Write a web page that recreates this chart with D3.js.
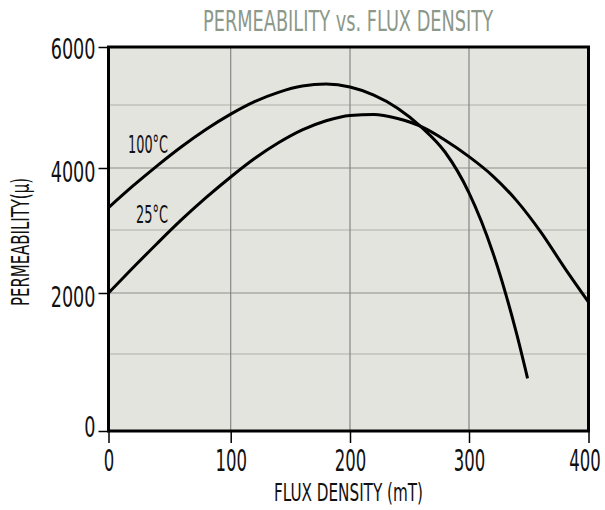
<!DOCTYPE html>
<html><head><meta charset="utf-8">
<script src="https://cdn.jsdelivr.net/npm/d3@7"></script>
<style>
html,body{margin:0;padding:0;background:#fff;}
svg{display:block;}
text{font-family:"Liberation Sans Narrow","DejaVu Sans Condensed","Liberation Sans",sans-serif;}
</style></head>
<body><svg id="chart" width="605" height="510"></svg>
<script>
// ---- data ----
const xTicks = [0, 100, 200, 300, 400];
const yTicks = [0, 2000, 4000, 6000];
const yGrid = [1000, 2000, 3000, 4000, 5000];
const flux100 = [0, 20, 40, 60, 80, 100, 120, 140, 160, 180, 200, 220, 240, 260, 280, 300, 320, 340, 349];
const perm100 = [3360, 3710, 4038, 4341, 4615, 4855, 5058, 5218, 5326, 5360, 5310, 5170, 4950, 4650, 4250, 3600, 2640, 1320, 684];
const flux25 = [0, 20, 40, 60, 80, 100, 120, 140, 160, 180, 200, 220, 240, 260, 280, 300, 320, 340, 360, 380, 400];
const perm25 = [2000, 2400, 2790, 3170, 3525, 3855, 4150, 4400, 4605, 4750, 4835, 4850, 4785, 4655, 4440, 4180, 3870, 3470, 2970, 2400, 1852];
const seriesLabels = ["100°C", "25°C"];
const title = "PERMEABILITY vs. FLUX DENSITY";
const xTitle = "FLUX DENSITY (mT)";
const yTitle = "PERMEABILITY(μ)";

const svg = d3.select("#chart");
const x = d3.scaleLinear().domain([0, 100, 200, 300, 400]).range([108.5, 230.7, 350, 469, 588.5]);
const y = d3.scaleLinear().domain([0, 1000, 2000, 3000, 4000, 5000, 6000]).range([431, 354, 293, 230, 168, 105, 47]);

const L = x(0), R = x(400), T = y(6000), B = y(0);

// background
svg.append("rect").attr("x", L).attr("y", T).attr("width", R - L).attr("height", B - T).attr("fill", "#e4e4df");

// horizontal grid
svg.append("g").selectAll("line").data(yGrid).join("line")
  .attr("x1", L).attr("x2", R).attr("y1", d => y(d)).attr("y2", d => y(d))
  .attr("stroke", d => d % 2000 === 0 ? "#8e8e8a" : "#b0b0aa").attr("stroke-width", 1.2);
// vertical grid
svg.append("g").selectAll("line").data([100, 200, 300]).join("line")
  .attr("x1", d => x(d)).attr("x2", d => x(d)).attr("y1", T).attr("y2", B)
  .attr("stroke", "#858585").attr("stroke-width", 1.2);

// curves
const line = d3.line().x(d => x(d[0])).y(d => y(d[1])).curve(d3.curveMonotoneX);
const s100 = flux100.map((f, i) => [f, perm100[i]]);
const s25 = flux25.map((f, i) => [f, perm25[i]]);
[s100, s25].forEach(s => {
  svg.append("path").attr("d", line(s)).attr("fill", "none").attr("stroke", "#000").attr("stroke-width", 3).attr("stroke-linecap", "butt");
});

// frame
svg.append("rect").attr("x", L).attr("y", T).attr("width", R - L).attr("height", B - T)
  .attr("fill", "none").attr("stroke", "#000").attr("stroke-width", 3);

// axes
const xAxis = svg.append("g").attr("transform", `translate(0,${B})`)
  .call(d3.axisBottom(x).tickValues(xTicks).tickSize(12).tickFormat(d3.format("d")));
xAxis.select(".domain").remove();
xAxis.selectAll(".tick line").attr("stroke", "#000").attr("stroke-width", 1.5);
xAxis.selectAll(".tick text").attr("y", 40).attr("dy", null)
  .attr("x", d => d === 400 ? -4 : 0)
  .attr("font-size", 30).attr("fill", "#111")
  .attr("textLength", d => String(d).length * 10.5).attr("lengthAdjust", "spacingAndGlyphs");

const yAxis = svg.append("g").attr("transform", `translate(${L},0)`)
  .call(d3.axisLeft(y).tickValues(yTicks).tickSize(10).tickFormat(d3.format("d")));
yAxis.select(".domain").remove();
yAxis.selectAll(".tick line").attr("stroke", "#000").attr("stroke-width", 1.5);
yAxis.selectAll(".tick text").attr("x", -13).attr("dy", null)
  .attr("y", d => d === 0 ? 5 : d === 6000 ? 11 : 13)
  .attr("font-size", 29).attr("fill", "#111")
  .attr("textLength", d => String(d).length * 11.2).attr("lengthAdjust", "spacingAndGlyphs");

// series labels
svg.append("text").attr("x", 148).attr("y", 153).attr("text-anchor", "middle")
  .attr("font-size", 24).attr("fill", "#111").attr("textLength", 40).attr("lengthAdjust", "spacingAndGlyphs").text(seriesLabels[0]);
svg.append("text").attr("x", 152).attr("y", 223).attr("text-anchor", "middle")
  .attr("font-size", 24).attr("fill", "#111").attr("textLength", 32).attr("lengthAdjust", "spacingAndGlyphs").text(seriesLabels[1]);

// titles
svg.append("text").attr("x", 348).attr("y", 31).attr("text-anchor", "middle")
  .attr("font-size", 28).attr("fill", "#8c9889").attr("textLength", 290).attr("lengthAdjust", "spacingAndGlyphs").text(title);
svg.append("text").attr("x", 348.5).attr("y", 501).attr("text-anchor", "middle")
  .attr("font-size", 24).attr("fill", "#111").attr("textLength", 149).attr("lengthAdjust", "spacingAndGlyphs").text(xTitle);
svg.append("text").attr("transform", "translate(29,242) rotate(-90)").attr("text-anchor", "middle")
  .attr("font-size", 25).attr("fill", "#111").attr("textLength", 128).attr("lengthAdjust", "spacingAndGlyphs").text(yTitle);
</script>
</body></html>
